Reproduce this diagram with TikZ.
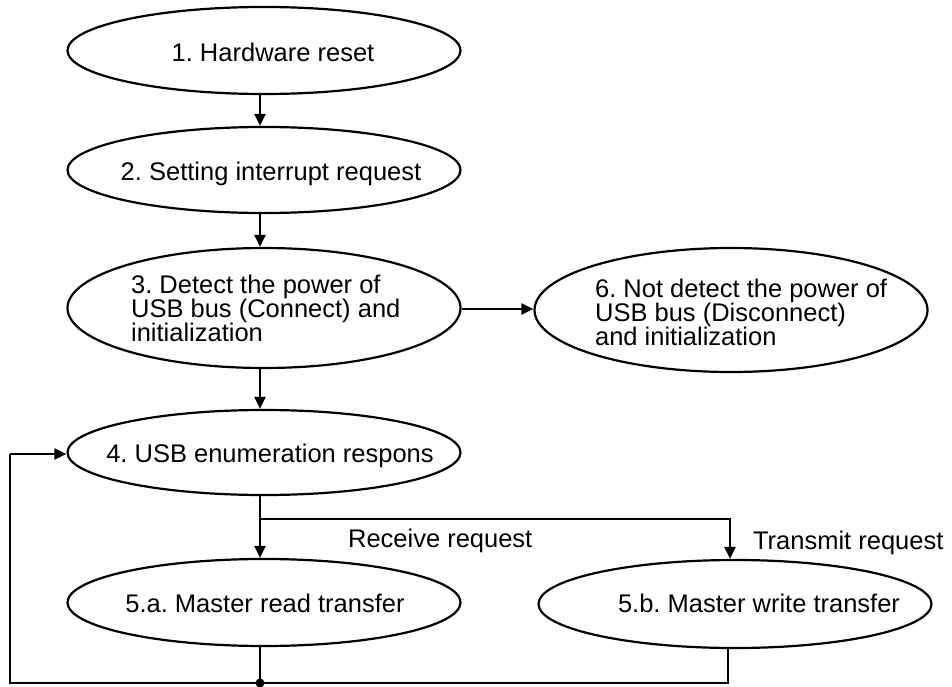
\documentclass[tikz,border=0pt]{standalone}
\usepackage{fontspec}
\setmainfont{Liberation Sans}
\frenchspacing
\usetikzlibrary{shapes.geometric,arrows.meta}
\begin{document}
\begin{tikzpicture}[x=1pt,y=-1pt,line width=2.2pt,
  oval/.style={ellipse,draw,line width=2.2pt,inner sep=0pt,minimum width=#1},
  oval/.default=393pt,
  lbl/.style={font=\fontsize{25.5}{24}\selectfont\frenchspacing,inner sep=0pt,text=black},
  arr/.style={-{Triangle[length=12pt,width=11pt]}}]
\useasboundingbox (0,0) rectangle (952,687);
% ellipses
\node[oval,minimum height=87pt] (e1) at (264,50.5) {};
\node[oval,minimum height=86pt] (e2) at (264,170) {};
\node[oval,minimum height=120pt] (e3) at (264,308) {};
\node[oval,minimum height=124pt] (e6) at (731,310) {};
\node[oval,minimum height=85pt] (e4) at (264,452.5) {};
\node[oval,minimum height=87pt] (e5a) at (264,602.5) {};
\node[oval,minimum height=88pt] (e5b) at (735,604) {};
% texts
\node[lbl,anchor=base] (t1) at (273,62) {1. Hardware reset};
\node[lbl,anchor=base] (t2) at (271,180) {2. Setting interrupt request};
\node[lbl,anchor=north west,align=left] (t3) at (130,274) {3. Detect the power of\\USB bus (Connect) and\\initialization};
\node[lbl,anchor=north west,align=left] (t6) at (594,278) {6. Not detect the power of\\USB bus (Disconnect)\\and initialization};
\node[lbl,anchor=base] (t4) at (270,462) {4. USB enumeration respons};
\node[lbl,anchor=base] (t5a) at (265,612) {5.a. Master read transfer};
\node[lbl,anchor=base] (t5b) at (759,612) {5.b. Master write transfer};
\node[lbl,anchor=base west] (lr) at (347,547) {Receive request};
\node[lbl,anchor=base west] (lt) at (752,549) {Transmit request};
% coordinates
\coordinate (br) at (260,519);
\coordinate (brr) at (730,519);
\coordinate (dot) at (260,683);
\coordinate (bl) at (10,683);
\coordinate (tl) at (10,454);
\coordinate (b5b) at (728,683);
% connectors
\draw[arr] (e1.south -| br) -- (e2.north -| br);
\draw[arr] (e2.south -| br) -- (e3.north -| br);
\draw[arr] (e3.south -| br) -- (e4.north -| br);
\draw[arr] (e3.east |- 0,309) -- (e6.west |- 0,309);
\draw[arr] (e4.south -| br) -- (e5a.north -| br);
\draw[arr] (br) -- (brr) -- (e5b.north -| brr);
\draw (e5a.south -| dot) -- (dot);
\draw (e5b.south -| b5b) -- (b5b) -- (bl) -- (tl);
\draw[arr] (tl) -- (e4.west |- tl);
\fill (dot) circle (4.5pt);
\end{tikzpicture}
\end{document}
